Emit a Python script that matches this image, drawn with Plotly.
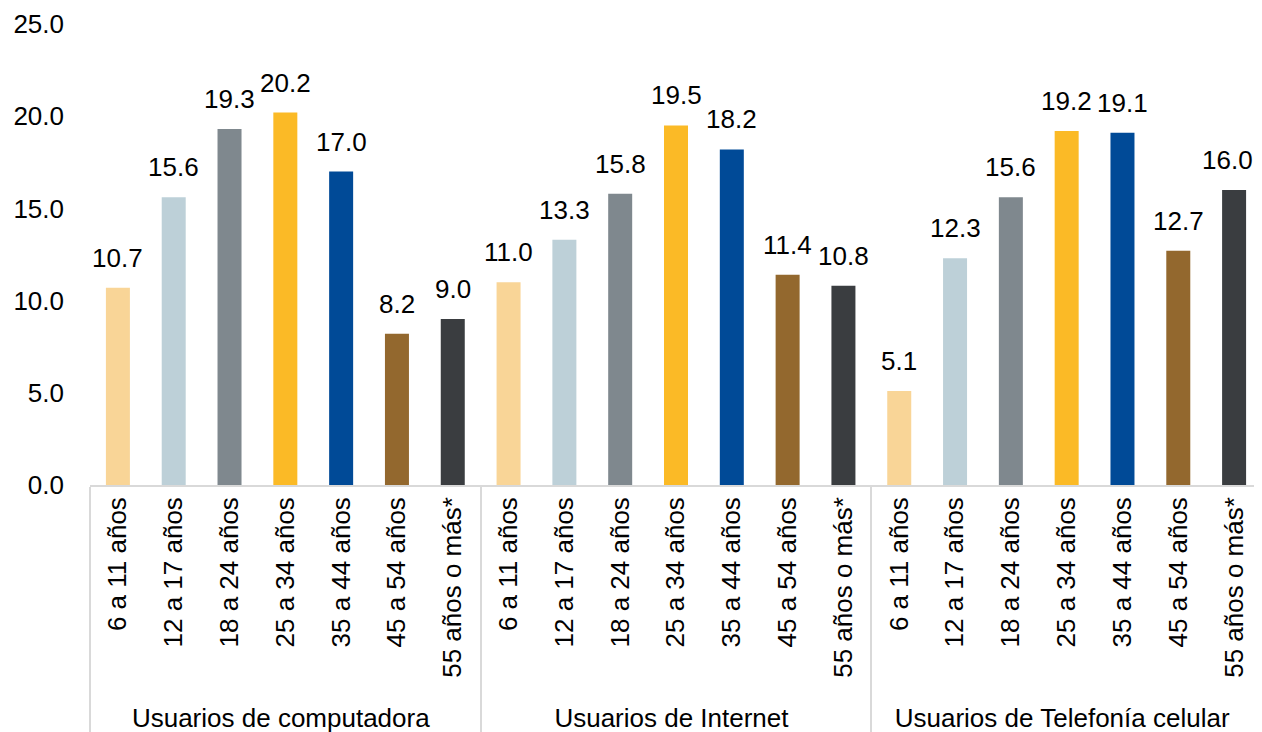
import plotly.graph_objects as go

groups = ["Usuarios de computadora", "Usuarios de Internet", "Usuarios de Telefonía celular"]
ages = ["6 a 11 años", "12 a 17 años", "18 a 24 años", "25 a 34 años",
        "35 a 44 años", "45 a 54 años", "55 años o más*"]
computadora = [10.7, 15.6, 19.3, 20.2, 17.0, 8.2, 9.0]
internet = [11.0, 13.3, 15.8, 19.5, 18.2, 11.4, 10.8]
celular = [5.1, 12.3, 15.6, 19.2, 19.1, 12.7, 16.0]
age_colors = ["#F9D597", "#BDD0D8", "#7F888E", "#FBBA26", "#004A97", "#93682E", "#3A3D40"]
y_ticks = [0, 5, 10, 15, 20, 25]

xg, xa, yv, cols = [], [], [], []
for g, vals in zip(groups, [computadora, internet, celular]):
    for a, v, c in zip(ages, vals, age_colors):
        xg.append(g)
        xa.append(a)
        yv.append(v)
        cols.append(c)

FS = 26
fig = go.Figure(go.Bar(
    x=[xg, xa], y=yv,
    marker=dict(color=cols, line=dict(width=0)),
    cliponaxis=False,
    hovertemplate="%{x}: %{y:.1f}<extra></extra>",
))

# value labels above the bars (last one nudged inside the figure, as in the original)
n = len(yv)
for i, v in enumerate(yv):
    last = i == n - 1
    fig.add_annotation(
        x=i, y=v, xref="x", yref="y",
        text=f"{v:.1f}", showarrow=False,
        yanchor="bottom", yshift=13,
        xanchor="right" if last else "center",
        xshift=21 if last else 0,
        font=dict(family="Liberation Sans, Arial", size=FS, color="#000000"),
    )

fig.update_layout(
    width=1254, height=724,
    margin=dict(l=82, r=0, t=16, b=247),
    paper_bgcolor="white", plot_bgcolor="white",
    showlegend=False,
    bargap=0.57,
    font=dict(family="Liberation Sans, Arial", size=FS, color="#000000"),
)
fig.update_xaxes(
    type="multicategory",
    tickangle=-90, automargin=False,
    showline=True, linecolor="#D9D9D9", linewidth=1.5,
    showdividers=True, dividercolor="#D9D9D9", dividerwidth=1.5,
    ticks="", tickfont=dict(size=FS, color="#000000"),
)
fig.update_yaxes(
    range=[0, 25], tickvals=y_ticks, tickformat=".1f",
    showgrid=False, zeroline=False, showline=False, automargin=False,
    ticks="", ticklabelstandoff=25,
    tickfont=dict(size=FS, color="#000000"),
)

fig.write_html("out.html")
